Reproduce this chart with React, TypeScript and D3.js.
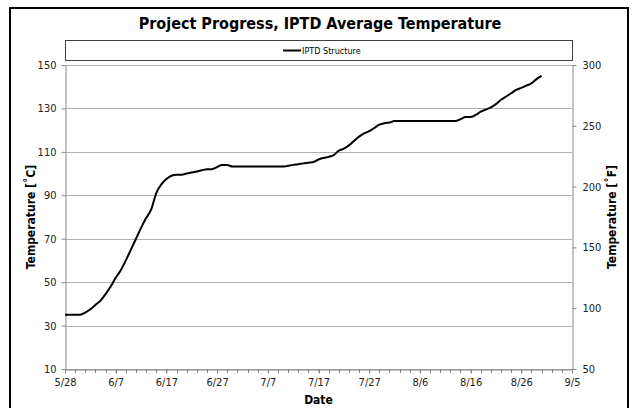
import React, { useEffect, useRef } from 'react';
import * as d3 from 'd3';

// daily average temperature, [°C], starting 5/28
const startDate = '5/28';
const tempsC = [
  35, 35, 35, 35, 36, 37.5, 39.5, 41.5, 44.5, 48,
  52, 55.5, 60, 65, 70, 75, 79.5, 83.5, 91, 95,
  97.5, 99, 99.5, 99.5, 100, 100.5, 101, 101.5, 102, 102,
  103, 104, 104, 103.2, 103.2, 103.2, 103.2, 103.2, 103.2, 103.2,
  103.2, 103.2, 103.2, 103.2, 103.6, 104, 104.3, 104.7, 105, 105.3,
  106.5, 107.2, 107.7, 108.5, 110.5, 111.5, 113, 115, 117, 118.5,
  119.5, 121, 122.5, 123.2, 123.5, 124.2, 124.2, 124.2, 124.2, 124.2,
  124.2, 124.2, 124.2, 124.2, 124.2, 124.2, 124.2, 124.2, 125, 126,
  126, 127, 128.5, 129.5, 130.5, 132, 134, 135.5, 137, 138.5,
  139.5, 140.5, 141.5, 143.5, 145,
];
const dateTicks = ['5/28', '6/7', '6/17', '6/27', '7/7', '7/17', '7/27', '8/6', '8/16', '8/26', '9/5'];
const cTicks = [10, 30, 50, 70, 90, 110, 130, 150];
const fTicks = [50, 100, 150, 200, 250, 300];
const seriesName = 'IPTD Structure';

const W = 635;
const H = 408;
const FONT = "'Liberation Sans Narrow', 'DejaVu Sans Condensed', Arial, sans-serif";

export default function App() {
  const ref = useRef<SVGSVGElement>(null);

  useEffect(() => {
    draw();
  }, []);

  function draw() {
    const svg = d3.select(ref.current);
    svg.selectAll('*').remove();

    const parse = (s: string) => d3.timeParse('%m/%d/%Y')(s + '/2009') as Date;
    const t0 = parse(startDate);
    const data = tempsC.map((v, i) => ({ date: d3.timeDay.offset(t0, i), v }));

    const left = 65;
    const right = 572;
    const top = 65;
    const bottom = 369;

    const x = d3.scaleTime()
      .domain([parse(dateTicks[0]), parse(dateTicks[dateTicks.length - 1])])
      .range([left, right]);
    const y = d3.scaleLinear().domain([10, 150]).range([bottom, top]);
    const yF = d3.scaleLinear().domain([50, 300]).range([bottom, top]);

    // outer chart border
    svg.append('rect')
      .attr('x', 10).attr('y', 8)
      .attr('width', 618).attr('height', 420)
      .attr('fill', '#fff')
      .attr('stroke', '#000')
      .attr('stroke-width', 2);

    svg.append('text')
      .attr('x', 320).attr('y', 29)
      .attr('text-anchor', 'middle')
      .attr('font-family', FONT)
      .attr('font-weight', 'bold')
      .attr('font-size', 16)
      .attr('fill', '#000')
      .text('Project Progress, IPTD Average Temperature');

    // legend
    svg.append('rect')
      .attr('x', left + 0.5).attr('y', 40.5)
      .attr('width', right - left).attr('height', 20)
      .attr('fill', '#fff')
      .attr('stroke', '#404040')
      .attr('stroke-width', 1);
    svg.append('line')
      .attr('x1', 283).attr('x2', 301)
      .attr('y1', 50.5).attr('y2', 50.5)
      .attr('stroke', '#000').attr('stroke-width', 2);
    svg.append('text')
      .attr('x', 302).attr('y', 53.5)
      .attr('font-family', FONT)
      .attr('font-size', 9)
      .attr('fill', '#000')
      .text(seriesName);

    // gridlines
    svg.append('g')
      .selectAll('line')
      .data(cTicks)
      .enter()
      .append('line')
      .attr('x1', left).attr('x2', right)
      .attr('y1', (d) => Math.round(y(d)) + 0.5)
      .attr('y2', (d) => Math.round(y(d)) + 0.5)
      .attr('stroke', '#b0b0b0')
      .attr('stroke-width', 1);

    const axisStyle = (g: any) => {
      g.select('.domain').attr('stroke', '#868686');
      g.selectAll('.tick line').attr('stroke', '#868686');
      g.selectAll('.tick text')
        .attr('font-family', FONT)
        .attr('font-size', 11)
        .attr('fill', '#222');
    };

    svg.append('g')
      .attr('transform', `translate(${left + 0.5},0)`)
      .call(d3.axisLeft(y).tickValues(cTicks).tickSize(4).tickSizeOuter(0).tickPadding(5))
      .call(axisStyle);

    svg.append('g')
      .attr('transform', `translate(${right + 0.5},0)`)
      .call(d3.axisRight(yF).tickValues(fTicks).tickSize(4).tickSizeOuter(0).tickPadding(6))
      .call(axisStyle);

    // minor ticks every 2 days
    const minor = d3.timeDay.range(x.domain()[0], d3.timeDay.offset(x.domain()[1], 1), 2);
    svg.append('g')
      .selectAll('line')
      .data(minor)
      .enter()
      .append('line')
      .attr('x1', (d) => Math.round(x(d)) + 0.5)
      .attr('x2', (d) => Math.round(x(d)) + 0.5)
      .attr('y1', bottom).attr('y2', bottom + 4)
      .attr('stroke', '#868686');

    svg.append('g')
      .attr('transform', `translate(0,${bottom + 0.5})`)
      .call(d3.axisBottom(x)
        .tickValues(dateTicks.map(parse))
        .tickFormat((d: any, i: number) => dateTicks[i])
        .tickSize(4).tickSizeOuter(0).tickPadding(5))
      .call(axisStyle);

    // axis titles
    svg.append('text')
      .attr('transform', `translate(35,${(top + bottom) / 2}) rotate(-90)`)
      .attr('text-anchor', 'middle')
      .attr('font-family', FONT)
      .attr('font-weight', 'bold')
      .attr('font-size', 12)
      .text('Temperature [˚C]');
    svg.append('text')
      .attr('transform', `translate(616,${(top + bottom) / 2}) rotate(-90)`)
      .attr('text-anchor', 'middle')
      .attr('font-family', FONT)
      .attr('font-weight', 'bold')
      .attr('font-size', 12)
      .text('Temperature [˚F]');
    svg.append('text')
      .attr('x', (left + right) / 2).attr('y', 404)
      .attr('text-anchor', 'middle')
      .attr('font-family', FONT)
      .attr('font-weight', 'bold')
      .attr('font-size', 12)
      .text('Date');

    const line = d3.line<{ date: Date, v: number }>()
      .x((d) => x(d.date))
      .y((d) => y(d.v))
      .curve(d3.curveMonotoneX);

    svg.append('path')
      .datum(data)
      .attr('d', line)
      .attr('fill', 'none')
      .attr('stroke', '#000')
      .attr('stroke-width', 2);
  }

  return (
    <svg
      ref={ref}
      width={W}
      height={H}
      style={{ position: 'absolute', left: 0, top: 0, display: 'block' }}
    />
  );
}
